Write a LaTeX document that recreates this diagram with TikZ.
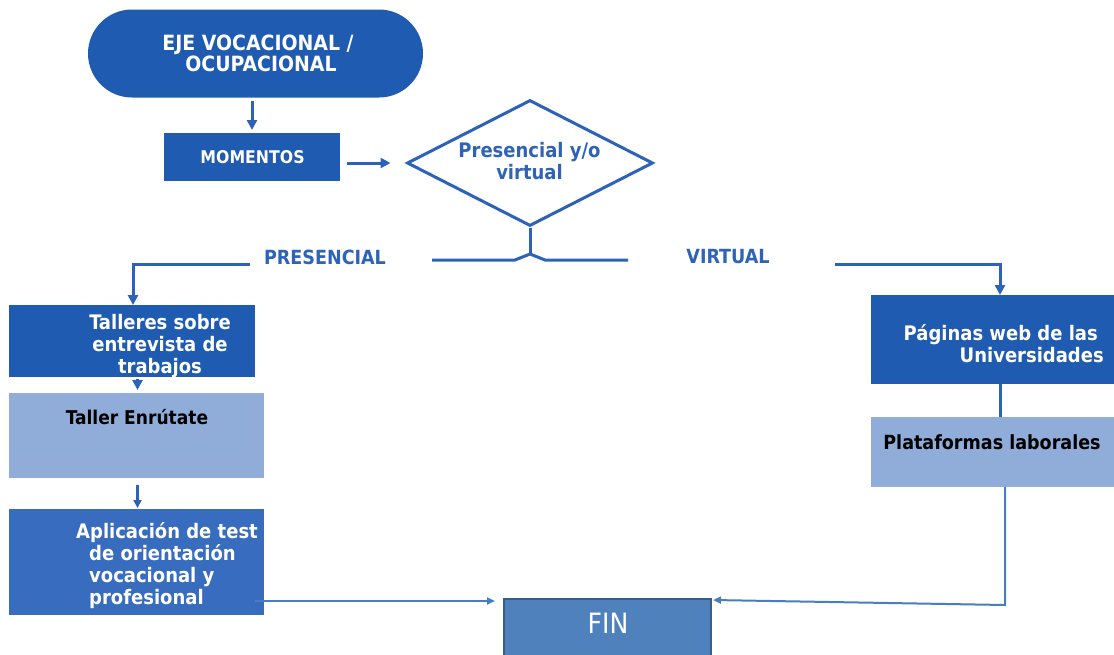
\documentclass[tikz,border=0pt]{standalone}
\usepackage{fontspec}
\setmainfont{DejaVu Sans Condensed}[BoldFont={DejaVu Sans Condensed Bold}]
\usetikzlibrary{arrows.meta,shapes.geometric}
\definecolor{dblue}{RGB}{31,91,176}
\definecolor{mblue}{RGB}{56,108,190}
\definecolor{lblue}{RGB}{143,173,216}
\definecolor{finblue}{RGB}{79,129,189}
\definecolor{finedge}{RGB}{56,93,138}
\definecolor{lineblue}{RGB}{44,99,184}
\definecolor{thinblue}{RGB}{74,124,192}
\definecolor{txtblue}{RGB}{46,99,184}
\begin{document}
\begin{tikzpicture}[x=1pt,y=-1pt,
  box/.style={rectangle, inner sep=0pt, outer sep=0pt},
  wtext/.style={text=white, font=\bfseries\fontsize{20}{22}\selectfont, inner sep=0pt},
  btext/.style={text=black, font=\bfseries\fontsize{19}{22}\selectfont, inner sep=0pt},
  ltext/.style={text=txtblue, font=\bfseries\fontsize{19.5}{22}\selectfont, inner sep=0pt},
  conn/.style={draw=lineblue, line width=3pt},
  arr/.style={conn, -{Triangle[length=10pt,width=10pt]}},
  thinarr/.style={draw=thinblue, line width=2pt, -{Triangle[length=8pt,width=7pt]}},
]
\clip (0,0) rectangle (1114,654);
\fill[white] (0,0) rectangle (1114,654);

% top pill
\node[box, fill=dblue, minimum width=335pt, minimum height=88pt, rounded corners=44pt] (eje) at (255.5,53.5) {};
\node[wtext, font=\bfseries\fontsize{21}{21}\selectfont, align=center] (ejet) at (258,53) {EJE VOCACIONAL /\\\hspace*{6pt}OCUPACIONAL};

% momentos
\node[box, fill=dblue, minimum width=176pt, minimum height=48pt] (mom) at (252,157) {};
\node[wtext, font=\bfseries\fontsize{17.5}{20}\selectfont] (momt) at (252.5,157) {MOMENTOS};

% diamond
\node[diamond, draw=lineblue, line width=3pt, inner sep=0pt, aspect=1.95,
      minimum width=246pt, minimum height=126pt] (dia) at (530,163) {};
\node[ltext, align=center, font=\bfseries\fontsize{20}{22}\selectfont] (diat) at (529.5,161) {Presencial y/o\\virtual};

% branch
\coordinate (jn) at (530,254);
\coordinate (bl) at (515,260);
\coordinate (br) at (545,260);
\coordinate (bl2) at (432,260);
\coordinate (br2) at (628,260);
\draw[conn, line join=miter] (dia.south) -- (jn);
\draw[conn, line join=miter] (bl2) -- (bl) -- (jn) -- (br) -- (br2);

\node[ltext] (pres) at (325,257) {PRESENCIAL};
\node[ltext] (virt) at (728,257) {VIRTUAL};

% left column boxes
\node[box, fill=dblue, minimum width=246pt, minimum height=72pt] (tall) at (132,341) {};
\node[wtext, align=center] (tallt) at (160,346) {Talleres sobre\\entrevista de\\trabajos};

\node[box, fill=lblue, minimum width=255pt, minimum height=85pt] (enr) at (136.5,435.5) {};
\node[btext] (enrt) at (137,417) {Taller Enrútate};

\node[box, fill=mblue, minimum width=255pt, minimum height=106pt] (apl) at (136.5,562) {};
\node[wtext, align=left, anchor=west] (aplt) at (89,566) {\hspace*{-13pt}Aplicación de test\\de orientación\\vocacional y\\profesional};

% right column boxes
\node[box, fill=dblue, minimum width=243pt, minimum height=89pt] (pag) at (992.5,339.5) {};
\node[wtext, align=right, anchor=east] (pagt) at (1104,344) {Páginas web de las\hspace*{6pt}\\Universidades};

\node[box, fill=lblue, minimum width=243pt, minimum height=70pt] (plat) at (992.5,452) {};
\node[btext, font=\bfseries\fontsize{19.5}{22}\selectfont] (platt) at (992,442) {Plataformas laborales};

% FIN
\node[box, fill=finblue, draw=finedge, line width=2pt, minimum width=207pt, minimum height=82pt] (fin) at (607.5,640) {};
\node[text=white, inner sep=0pt, font=\fontsize{28}{30}\selectfont] (fint) at (608,623) {FIN};

% connectors
\draw[arr] ([yshift=-3pt]eje.south -| mom.north) -- ([yshift=3pt]mom.north);
\draw[arr] ([xshift=7pt]mom.east |- dia.west) -- ([xshift=-15pt]dia.west);

\coordinate (pl) at (250,264);
\coordinate (pc) at (133,264);
\draw[arr] (pl) -- (pc) -- (pc |- tall.north);

\coordinate (vr) at (835,264);
\coordinate (vc) at (1000,264);
\draw[arr] (vr) -- (vc) -- (vc |- pag.north);

\draw[arr] (tall.south -| enr.north) ++(1pt,-2pt) -- ([xshift=1pt,yshift=3pt]enr.north);
\draw[draw=lineblue, line width=2.2pt, -{Triangle[length=8pt,width=8pt]}] ([xshift=1pt,yshift=-7pt]enr.south) -- ([xshift=1pt,yshift=1pt]apl.north);

\draw[conn] ([xshift=7.5pt]pag.south) -- ([xshift=7.5pt]plat.north);

\draw[thinarr] ([xshift=-9pt,yshift=-39pt]apl.east) -- ([xshift=-9pt,yshift=-2pt]fin.north west);
\coordinate (rc) at (1005,605);
\draw[thinarr] ([xshift=12.5pt]plat.south) -- (rc) -- ([xshift=2pt,yshift=-1pt]fin.north east);
\end{tikzpicture}
\end{document}
